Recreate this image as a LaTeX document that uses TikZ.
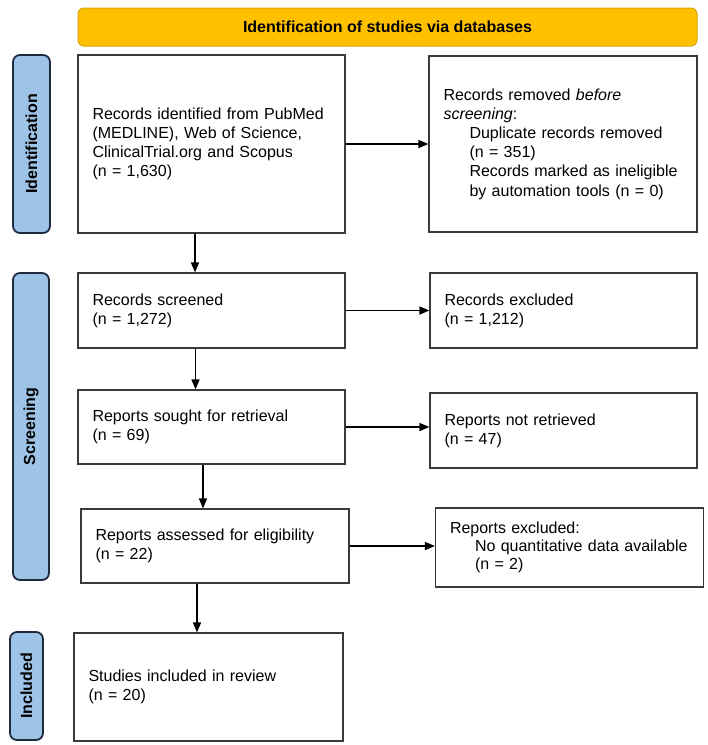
\documentclass[tikz,border=0pt]{standalone}
\usepackage{fontspec}
\setmainfont{Liberation Sans}
\usetikzlibrary{arrows.meta}
\definecolor{gold}{HTML}{FFC000}
\definecolor{goldline}{HTML}{D9A400}
\definecolor{phase}{HTML}{9DC3E6}
\definecolor{phaseline}{HTML}{1F2A3C}
\definecolor{boxline}{HTML}{3A3A3A}
\begin{document}
\begin{tikzpicture}[x=1pt,y=-1pt,
  flowbox/.style={draw=boxline, line width=1.2pt, rectangle, align=left,
    inner xsep=14.5pt, inner ysep=3pt, font=\fontsize{16}{19.2}\selectfont, anchor=center},
  phasebox/.style={draw=phaseline, fill=phase, line width=1.8pt, rounded corners=7pt,
    rotate=90, inner sep=0pt, font=\bfseries\fontsize{16}{19}\selectfont, anchor=center},
  banner/.style={draw=goldline, fill=gold, line width=1pt, rounded corners=6pt,
    inner sep=0pt, font=\bfseries\fontsize{16}{19}\selectfont, anchor=center},
  arr/.style={line width=1.5pt, -{Triangle[length=10pt,width=8pt]}}]
\useasboundingbox (0,0) rectangle (708,745);
\fill[white] (0,0) rectangle (708,745);

% banner
\node[banner, minimum width=619pt, minimum height=38pt] (top) at (387.5,27) {Identification of studies via databases};

% phase labels
\node[phasebox, minimum width=178pt, minimum height=37pt] (pid) at (31.5,144) {Identification};
\node[phasebox, minimum width=307pt, minimum height=36pt] (psc) at (31,426.5) {Screening};
\node[phasebox, minimum width=108pt, minimum height=33pt] (pin) at (26.5,686) {Included};

% boxes
\node[flowbox, text width=238pt, minimum height=178pt] (b1) at (211.5,144)
  {Records identified from PubMed\\(MEDLINE), Web of Science,\\ClinicalTrial.org and Scopus\\(n = 1,630)};
\node[flowbox, text width=239pt, minimum height=176pt] (b2) at (563,144)
  {Records removed \textit{before}\\\textit{screening}:\\
   \hspace*{26pt}Duplicate records removed\\
   \hspace*{26pt}(n = 351)\\
   \hspace*{26pt}Records marked as ineligible\\
   \hspace*{26pt}by automation tools (n = 0)};

\node[flowbox, text width=238pt, minimum height=75pt] (s1) at (211.5,310.5)
  {Records screened\\(n = 1,272)};
\node[flowbox, text width=238pt, minimum height=75pt] (e1) at (563.5,310.5)
  {Records excluded\\(n = 1,212)};

\node[flowbox, text width=238pt, minimum height=74pt] (s2) at (211.5,427)
  {Reports sought for retrieval\\(n = 69)};
\node[flowbox, text width=238pt, minimum height=75pt] (e2) at (563.5,430.5)
  {Reports not retrieved\\(n = 47)};

\node[flowbox, text width=239pt, minimum height=74pt] (s3) at (215,546)
  {Reports assessed for eligibility\\(n = 22)};
\node[flowbox, text width=239pt, minimum height=79pt, font=\fontsize{16}{18}\selectfont] (e3) at (569.5,547.5)
  {Reports excluded:\\
   \hspace*{25pt}No quantitative data available\\
   \hspace*{25pt}(n = 2)};

\node[flowbox, text width=240pt, minimum height=108pt] (inc) at (208.5,687)
  {Studies included in review\\(n = 20)};

% arrows
\draw[arr] (b1.east) -- (b2.west);
\draw[arr] ([xshift=-16.5pt]b1.south) -- ([xshift=-16.5pt]b1.south |- s1.north);
\draw[arr] (s1.east) -- (e1.west);
\draw[arr] ([xshift=-16pt]s1.south) -- ([xshift=-16pt]s1.south |- s2.north);
\draw[arr] (s2.east) -- (s2.east -| e2.west);
\draw[arr] ([xshift=-8.5pt]s2.south) -- ([xshift=-8.5pt]s2.south |- s3.north);
\draw[arr] (s3.east) -- (s3.east -| e3.west);
\draw[arr] ([xshift=-18pt]s3.south) -- ([xshift=-18pt]s3.south |- inc.north);
\end{tikzpicture}
\end{document}
